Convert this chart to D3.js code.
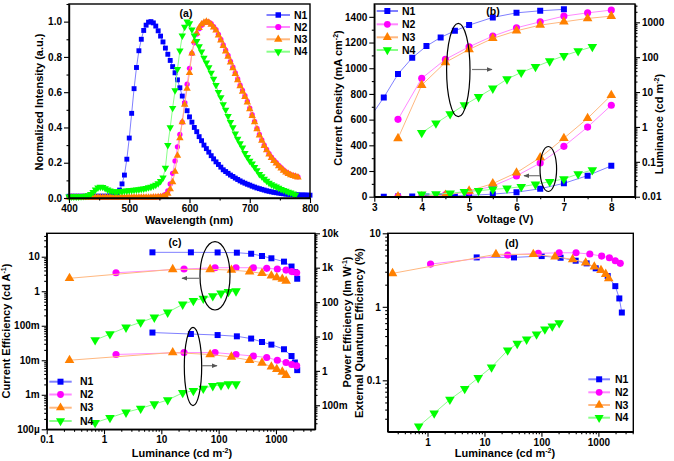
<!DOCTYPE html>
<html>
<head>
<meta charset="utf-8">
<script src="https://cdn.jsdelivr.net/npm/d3@7"></script>
<style>
body { margin: 0; background: #fff; }
svg { font-family: "Liberation Sans", Arial, sans-serif; font-weight: bold; }
.tick text { font-size: 10px; font-weight: bold; fill: #000; }
.domain { stroke: #000; stroke-width: 1.4; }
.tick line { stroke: #000; stroke-width: 1.1; }
</style>
</head>
<body>
<svg id="fig" width="674" height="461"></svg>
<script>
/* ---------- data ---------- */
var names = ["N1", "N2", "N3", "N4"];

// (a) normalized EL spectra, 4 nm steps
var wavelength = [400,404,408,412,416,420,424,428,432,436,440,444,448,452,456,460,464,468,472,476,
  480,484,488,492,496,500,504,508,512,516,520,524,528,532,536,540,544,548,552,556,
  560,564,568,572,576,580,584,588,592,596,600,604,608,612,616,620,624,628,632,636,
  640,644,648,652,656,660,664,668,672,676,680,684,688,692,696,700,704,708,712,716,
  720,724,728,732,736,740,744,748,752,756,760,764,768,772,776,780,784,788,792,796,800];
var specN1 = [0.01,0.01,0.01,0.01,0.01,0.01,0.01,0.01,0.01,0.01,
  0.01,0.01,0.01,0.01,0.01,0.01,0.01,0.012,0.015,0.02,
  0.03,0.045,0.08,0.13,0.22,0.34,0.48,0.62,0.74,0.835,
  0.90,0.95,0.98,0.997,1.0,0.993,0.975,0.948,0.918,0.885,
  0.85,0.815,0.78,0.745,0.71,0.67,0.625,0.578,0.535,0.495,
  0.46,0.43,0.40,0.376,0.348,0.325,0.30,0.28,0.26,0.24,
  0.222,0.205,0.19,0.175,0.16,0.15,0.14,0.13,0.122,0.113,
  0.105,0.097,0.09,0.084,0.078,0.073,0.067,0.062,0.057,0.053,
  0.049,0.045,0.041,0.038,0.035,0.032,0.03,0.028,0.026,0.024,
  0.022,0.021,0.02,0.019,0.018,0.018,0.017,0.017,0.017,0.016,0.016];
var specN2 = [0.003,0.003,0.003,0.003,0.003,0.003,0.003,0.003,0.003,0.003,
  0.003,0.003,0.003,0.003,0.003,0.003,0.003,0.003,0.003,0.003,
  0.003,0.003,0.003,0.003,0.003,0.003,0.003,0.003,0.003,0.003,
  0.003,0.003,0.003,0.004,0.004,0.005,0.005,0.006,0.008,0.012,
  0.02,0.04,0.08,0.14,0.21,0.29,0.36,0.43,0.54,0.645,
  0.735,0.82,0.88,0.93,0.96,0.98,0.993,1.0,0.997,0.988,
  0.972,0.955,0.928,0.9,0.868,0.838,0.808,0.775,0.742,0.71,
  0.675,0.64,0.61,0.58,0.548,0.51,0.472,0.435,0.395,0.36,
  0.33,0.3,0.275,0.252,0.232,0.215,0.2,0.185,0.172,0.16,
  0.148,0.14,0.133,0.128,0.124,0.12];
var specN3 = [0.003,0.003,0.003,0.003,0.003,0.003,0.003,0.003,0.003,0.003,
  0.003,0.003,0.003,0.003,0.003,0.003,0.003,0.003,0.003,0.003,
  0.003,0.003,0.003,0.003,0.003,0.003,0.003,0.003,0.003,0.003,
  0.003,0.003,0.003,0.003,0.003,0.004,0.004,0.005,0.006,0.008,
  0.012,0.025,0.05,0.09,0.15,0.24,0.34,0.43,0.53,0.62,
  0.71,0.82,0.89,0.935,0.965,0.985,0.995,1.0,0.995,0.983,
  0.967,0.95,0.922,0.894,0.862,0.832,0.802,0.769,0.736,0.704,
  0.669,0.634,0.604,0.574,0.542,0.504,0.466,0.43,0.39,0.355,
  0.325,0.296,0.271,0.248,0.228,0.211,0.196,0.181,0.168,0.156,
  0.145,0.137,0.13,0.125,0.121,0.117];
var specN4 = [0.008,0.008,0.008,0.008,0.008,0.009,0.01,0.012,0.015,0.022,
  0.033,0.047,0.058,0.063,0.062,0.055,0.047,0.041,0.038,0.036,
  0.036,0.037,0.038,0.04,0.041,0.043,0.044,0.046,0.047,0.049,
  0.051,0.053,0.056,0.06,0.063,0.068,0.074,0.083,0.095,0.115,
  0.17,0.30,0.40,0.51,0.61,0.73,0.835,0.92,0.97,1.0,
  0.99,0.955,0.92,0.89,0.86,0.83,0.795,0.767,0.74,0.71,
  0.675,0.64,0.60,0.571,0.531,0.50,0.464,0.43,0.40,0.365,
  0.335,0.31,0.285,0.255,0.232,0.21,0.195,0.175,0.157,0.135,
  0.122,0.108,0.097,0.086,0.077,0.07,0.064,0.057,0.05,0.045,
  0.04,0.034,0.03,0.024,0.018];

// (b) J-V-L
var voltN1 = [2.9,3.2,3.5,3.8,4.1,4.4,4.7,5,5.5,6,6.5,7];
var lumVN1 = [1.8,7.0,32.8,96,208,369,571,832,1380,1870,2140,2350];
var voltJN1 = [3.2,3.5,3.8,4.1,4.4,4.7,5,5.5,6,6.5,7,7.5,8];
var curN1 = [0.5,1,1.5,2.5,4,6,10,20,35,62,104,164,240];
var voltN2 = [3.5,4,4.5,5,5.5,6,6.5,7,7.5,8];
var lumVN2 = [1.65,24.7,86.5,199,403,697,1033,1505,1870,2240];
var curN2 = [0.5,2,15,38,82,162,262,392,542,712];
var voltN3 = [3.5,4,4.5,5,5.5,6,6.5,7,7.5,8];
var lumVN3 = [0.47,15.8,71,167,347,571,832,1033,1290,1505];
var curN3 = [0.5,2,12,45,102,187,305,455,610,790];
var voltN4 = [4,4.3,4.6,4.9,5.2,5.5,5.8,6.1,6.4,6.7,7,7.3,7.6];
var lumVN4 = [0.68,1.27,2.34,4.25,7.3,12.8,23.5,36.6,53,77,110,150,199];
var curN4 = [18,21,26,39,47,57,65,78,96,117,138,177,208];

// (c) current efficiency and power efficiency vs luminance
var lumCN1 = [7.0,32.8,96,208,369,571,832,1380,1870,2140,2350];
var ceN1 = [13.4,13.4,13.3,13.1,12.2,10.5,9,7.2,5.2,3.6,2.3];
var peN1 = [13,11.8,11,10.1,8.7,6.9,5.8,4.25,2.7,1.75,1.05];
var lumCN2 = [1.62,24.9,86.5,201,403,690,1057,1500,1887,2300];
var ceN2 = [3.43,4.4,4.8,4.8,4.8,4.6,4.4,4.1,3.7,3.43];
var peN2 = [3.0,3.4,3.4,3.0,2.7,2.45,2.04,1.75,1.53,1.4];
var lumCN3 = [0.25,15.8,71,167,347,571,832,1033,1290,1505];
var ceN3 = [2.37,4.3,4.3,4.1,3.7,3.3,2.8,2.5,2.26,1.98];
var peN3 = [2.04,3.41,2.99,2.55,2.04,1.71,1.31,1.12,0.935,0.75];
var lumCN4 = [0.70,1.27,2.42,4.36,7.55,12.9,23.6,36.2,54,79,110,148,201];
var ceN4 = [0.0385,0.0574,0.09,0.126,0.175,0.244,0.417,0.53,0.62,0.726,0.869,0.968,1.01];
var peN4 = [0.031,0.0435,0.0622,0.081,0.108,0.142,0.23,0.263,0.309,0.367,0.385,0.411,0.411];

// (d) EQE vs luminance
var lumDN1 = [7.3,33,101,217,399,622,897,1457,1981,2330,2580];
var eqeN1 = [4.7,4.7,4.9,4.65,4.24,3.9,3.34,2.62,1.91,1.30,0.836];
var lumDN2 = [1.13,25.5,88,205,405,707,1140,1560,1980,2420];
var eqeN2 = [3.81,5.06,5.33,5.43,5.43,5.22,4.9,4.65,4.23,3.9];
var lumDN3 = [0.243,15.9,72,173,353,598,847,1110,1344,1517];
var eqeN3 = [2.85,5.18,5.18,4.8,4.42,3.97,3.5,3.15,2.78,2.43];
var lumDN4 = [0.70,1.31,2.47,4.5,7.75,13.3,25.5,37.6,55,82,115,155,205];
var eqeN4 = [0.0237,0.0357,0.0548,0.0767,0.108,0.151,0.256,0.316,0.361,0.423,0.494,0.543,0.603];

/* ---------- style ---------- */
var colors = ["#0000ff", "#ff00ff", "#ff8000", "#00ff00"];
var lineColors = ["#8080ff", "#ff88ff", "#ffb880", "#88ff88"];
var shapes = [d3.symbolSquare, d3.symbolCircle, d3.symbolTriangle, d3.symbolTriangle];
var turn = [0, 0, 0, 180];

var svg = d3.select("#fig");

function logMinor(lo, hi) {
  var out = [];
  for (var e = -5; e <= 5; e++) {
    for (var m = 2; m <= 9; m++) {
      var v = m * Math.pow(10, e);
      if (v > lo * 1.0001 && v < hi * 0.9999) out.push(v);
    }
  }
  return out;
}

// make = d3.axisBottom / axisLeft / axisRight
function axis(make, scale, tx, ty, major, fmt, minor) {
  svg.append("g").attr("transform", `translate(${tx},${ty})`)
    .call(make(scale).tickValues(minor).tickSize(2.5).tickSizeOuter(0).tickFormat(""))
    .select(".domain").remove();
  svg.append("g").attr("transform", `translate(${tx},${ty})`)
    .call(make(scale).tickValues(major).tickSize(5).tickSizeOuter(0).tickPadding(2).tickFormat(fmt));
}

function frame(x0, x1, y0, y1) {
  svg.append("rect").attr("x", x0).attr("y", y0).attr("width", x1 - x0).attr("height", y1 - y0)
    .attr("fill", "none").attr("stroke", "#000").attr("stroke-width", 1.4);
}

function series(g, x, y, xs, ys, i, size) {
  var pts = xs.map((v, k) => [x(v), y(ys[k])]);
  g.append("path").attr("d", d3.line()(pts))
    .attr("fill", "none").attr("stroke", lineColors[i]).attr("stroke-width", 1);
  g.selectAll(null).data(pts).enter().append("path")
    .attr("d", d3.symbol().type(shapes[i]).size(size))
    .attr("transform", d => `translate(${d[0]},${d[1]}) rotate(${turn[i]})`)
    .attr("fill", colors[i]);
}

function legend(x0, x1, xt, ys, size) {
  names.forEach(function(n, i) {
    svg.append("line").attr("x1", x0).attr("x2", x1).attr("y1", ys[i]).attr("y2", ys[i])
      .attr("stroke", lineColors[i]).attr("stroke-width", 2);
    svg.append("path").attr("d", d3.symbol().type(shapes[i]).size(size))
      .attr("transform", `translate(${(x0 + x1) / 2},${ys[i]}) rotate(${turn[i]})`)
      .attr("fill", colors[i]);
    svg.append("text").attr("x", xt).attr("y", ys[i]).attr("dy", "0.35em")
      .attr("font-size", 10.5).text(n);
  });
}

function label(x, y, rot, parts, size) {
  var t = svg.append("text").attr("transform", `translate(${x},${y}) rotate(${rot})`)
    .attr("text-anchor", "middle").attr("font-size", size || 11);
  var back = 0;
  parts.forEach(function(p) {
    var sup = Array.isArray(p);
    var s = t.append("tspan").text(sup ? p[0] : p);
    if (sup) { s.attr("font-size", 7).attr("dy", -4); back = 4; }
    else if (back) { s.attr("dy", back); back = 0; }
  });
}

function ellipse(cx, cy, rx, ry) {
  svg.append("ellipse").attr("cx", cx).attr("cy", cy).attr("rx", rx).attr("ry", ry)
    .attr("fill", "none").attr("stroke", "#000").attr("stroke-width", 1.2);
}

svg.append("defs").append("marker").attr("id", "arr")
  .attr("viewBox", "0 0 10 10").attr("refX", 9).attr("refY", 5)
  .attr("markerWidth", 5).attr("markerHeight", 5).attr("orient", "auto")
  .append("path").attr("d", "M0,1L10,5L0,9Z").attr("fill", "#555");

function arrow(x1, x2, y) {
  svg.append("line").attr("x1", x1).attr("x2", x2).attr("y1", y).attr("y2", y)
    .attr("stroke", "#777").attr("stroke-width", 1.2).attr("marker-end", "url(#arr)");
}

/* ---------- (a) ---------- */
var ax = d3.scaleLinear().domain([400, 800]).range([69, 310]);
var ay = d3.scaleLinear().domain([0, 1.1]).range([198, 4]);
var ga = svg.append("g");
series(ga, ax, ay, wavelength.slice(0, specN1.length), specN1, 0, 24);
series(ga, ax, ay, wavelength.slice(0, specN2.length), specN2, 1, 22);
series(ga, ax, ay, wavelength.slice(0, specN3.length), specN3, 2, 24);
series(ga, ax, ay, wavelength.slice(0, specN4.length), specN4, 3, 24);
frame(69, 310, 4, 198);
axis(d3.axisBottom, ax, 0, 198, [400, 500, 600, 700, 800], d3.format("d"), [450, 550, 650, 750]);
axis(d3.axisLeft, ay, 69, 0, [0, 0.2, 0.4, 0.6, 0.8, 1.0], d3.format(".1f"), [0.1, 0.3, 0.5, 0.7, 0.9, 1.1]);
legend(266.5, 290, 294, [15, 27, 39.3, 51.7], 30);
svg.append("text").attr("x", 186).attr("y", 17).attr("text-anchor", "middle").attr("font-size", 10.5).text("(a)");
label(189, 224, 0, ["Wavelength (nm)"]);
label(43, 102, -90, ["Normalized Intensity (a.u.)"]);

/* ---------- (b) ---------- */
var bx = d3.scaleLinear().domain([3, 8.5]).range([374.3, 635]);
var byL = d3.scaleLinear().domain([0, 1500]).range([196.7, 4]);
var byR = d3.scaleLog().domain([0.01, 3350]).range([196.7, 4]);
svg.append("clipPath").attr("id", "clipB").append("rect")
  .attr("x", 374.3).attr("y", 4).attr("width", 635 - 374.3).attr("height", 192.7);
var gb = svg.append("g").attr("clip-path", "url(#clipB)");
series(gb, bx, byR, voltN1, lumVN1, 0, 36);
series(gb, bx, byR, voltN2, lumVN2, 1, 40);
series(gb, bx, byR, voltN3, lumVN3, 2, 40);
series(gb, bx, byR, voltN4, lumVN4, 3, 40);
series(gb, bx, byL, voltJN1, curN1, 0, 36);
series(gb, bx, byL, voltN2, curN2, 1, 40);
series(gb, bx, byL, voltN3, curN3, 2, 40);
series(gb, bx, byL, voltN4, curN4, 3, 40);
frame(374.3, 635, 4, 196.7);
axis(d3.axisBottom, bx, 0, 196.7, [3, 4, 5, 6, 7, 8], d3.format("d"), [3.5, 4.5, 5.5, 6.5, 7.5, 8.5]);
axis(d3.axisLeft, byL, 374.3, 0, [0, 200, 400, 600, 800, 1000, 1200, 1400], d3.format("d"),
  [100, 300, 500, 700, 900, 1100, 1300]);
var lumFmt = {0.01: "0.01", 0.1: "0.1", 1: "1", 10: "10", 100: "100", 1000: "1000"};
axis(d3.axisRight, byR, 635, 0, [0.01, 0.1, 1, 10, 100, 1000], d => lumFmt[d], logMinor(0.01, 3350));
legend(376.7, 398, 402, [11, 24.3, 37.3, 50], 36);
svg.append("text").attr("x", 493).attr("y", 15).attr("text-anchor", "middle").attr("font-size", 10.5).text("(b)");
ellipse(458.3, 70, 11.7, 46.7);
arrow(472, 492, 69.5);
ellipse(548.3, 169, 8.3, 22.5);
arrow(540, 524, 175.7);
label(505, 223, 0, ["Voltage (V)"]);
label(342, 98, -90, ["Current Density (mA cm", ["-2"], ")"]);
label(663, 124, -90, ["Luminance (cd m", ["-2"], ")"]);

/* ---------- (c) ---------- */
var cx = d3.scaleLog().domain([0.1, 4800]).range([46.7, 315]);
var cyL = d3.scaleLog().domain([1e-4, 47.7]).range([429.3, 233.3]);
var cyR = d3.scaleLog().domain([0.02, 10000]).range([429.3, 233.3]);
var gc = svg.append("g");
series(gc, cx, cyL, lumCN1, ceN1, 0, 36);
series(gc, cx, cyL, lumCN2, ceN2, 1, 40);
series(gc, cx, cyL, lumCN3, ceN3, 2, 40);
series(gc, cx, cyL, lumCN4, ceN4, 3, 40);
series(gc, cx, cyR, lumCN1, peN1, 0, 36);
series(gc, cx, cyR, lumCN2, peN2, 1, 40);
series(gc, cx, cyR, lumCN3, peN3, 2, 40);
series(gc, cx, cyR, lumCN4, peN4, 3, 40);
frame(46.7, 315, 233.3, 429.3);
var xFmt = {0.1: "0.1", 1: "1", 10: "10", 100: "100", 1000: "1000"};
axis(d3.axisBottom, cx, 0, 429.3, [0.1, 1, 10, 100, 1000], d => xFmt[d], logMinor(0.1, 4800));
var ceFmt = {1e-4: "100\u00b5", 1e-3: "1m", 0.01: "10m", 0.1: "100m", 1: "1", 10: "10"};
axis(d3.axisLeft, cyL, 46.7, 0, [1e-4, 1e-3, 0.01, 0.1, 1, 10], d => ceFmt[d], logMinor(1e-4, 47.7));
var peFmt = {0.1: "100m", 1: "1", 10: "10", 100: "100", 1000: "1k", 10000: "10k"};
axis(d3.axisRight, cyR, 315, 0, [0.1, 1, 10, 100, 1000, 10000], d => peFmt[d], logMinor(0.02, 10000));
legend(49.3, 71.7, 80, [381.7, 394.5, 407.7, 421], 36);
svg.append("text").attr("x", 175).attr("y", 245.5).attr("text-anchor", "middle").attr("font-size", 10.5).text("(c)");
ellipse(215, 275.8, 15, 34.2);
arrow(200, 182, 278.3);
ellipse(193, 366.5, 8.7, 39.2);
arrow(202, 217, 365.7);
label(182, 457, 0, ["Luminance (cd m", ["-2"], ")"]);
label(10, 331, -90, ["Current Efficiency (cd A", ["-1"], ")"]);
label(351, 322, -90, ["Power Efficiency (lm W", ["-1"], ")"]);

/* ---------- (d) ---------- */
var dx = d3.scaleLog().domain([0.2, 4100]).range([387.7, 633.3]);
var dy = d3.scaleLog().domain([0.02, 10]).range([431.7, 233.3]);
var gd = svg.append("g");
series(gd, dx, dy, lumDN1, eqeN1, 0, 36);
series(gd, dx, dy, lumDN2, eqeN2, 1, 40);
series(gd, dx, dy, lumDN3, eqeN3, 2, 40);
series(gd, dx, dy, lumDN4, eqeN4, 3, 40);
frame(387.7, 633.3, 233.3, 431.7);
axis(d3.axisBottom, dx, 0, 431.7, [1, 10, 100, 1000], d => xFmt[d], logMinor(0.2, 4100));
var eqeFmt = {0.1: "0.1", 1: "1", 10: "10"};
axis(d3.axisLeft, dy, 387.7, 0, [0.1, 1, 10], d => eqeFmt[d], logMinor(0.02, 10));
legend(588.3, 610, 615, [379.3, 392.3, 405, 417.7], 36);
svg.append("text").attr("x", 511.7).attr("y", 246.5).attr("text-anchor", "middle").attr("font-size", 10.5).text("(d)");
label(505, 457, 0, ["Luminance (cd m", ["-2"], ")"]);
label(363, 333, -90, ["External Quantum Efficiency (%)"]);
</script>
</body>
</html>
